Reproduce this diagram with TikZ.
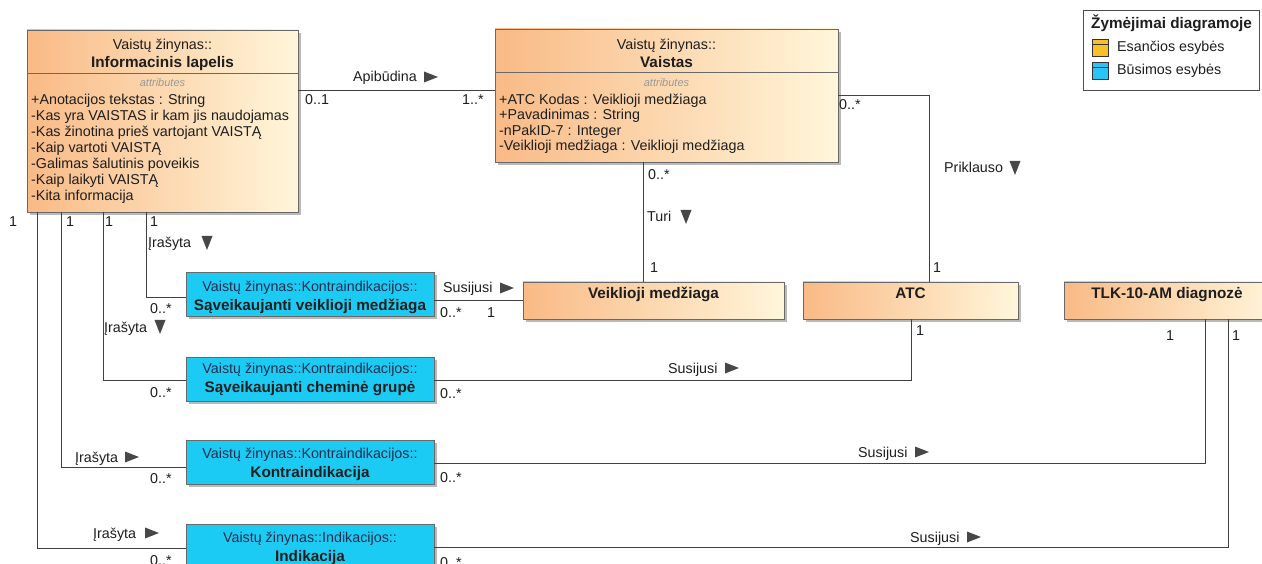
\documentclass[tikz,border=0pt]{standalone}
\usepackage{fontspec}
\setmainfont{Liberation Sans}
\usetikzlibrary{shadows}

\definecolor{oraL}{RGB}{249,186,134}
\definecolor{oraR}{RGB}{255,246,218}
\definecolor{cyanbox}{RGB}{28,203,243}
\definecolor{edgecol}{RGB}{105,105,105}
\definecolor{ink}{RGB}{30,30,30}
\definecolor{navy}{RGB}{35,45,80}
\definecolor{legOra}{RGB}{250,192,40}
\definecolor{legBlue}{RGB}{40,196,245}

\newcommand\regfont{\fontsize{14.3pt}{16pt}\selectfont}
\newcommand\hvyfont{\fontsize{15.3pt}{17pt}\selectfont\bfseries}
\newcommand\smallit{\fontsize{11pt}{12pt}\selectfont\itshape}

\tikzset{
  boxbase/.style={draw=edgecol, line width=0.8pt, inner sep=0pt, outer sep=0pt, anchor=north west,
    drop shadow={shadow xshift=3pt, shadow yshift=-3pt, fill=black!50, opacity=0.55}},
  obox/.style={boxbase, left color=oraL, right color=oraR},
  cbox/.style={boxbase, fill=cyanbox},
  conn/.style={draw=black!75, line width=0.9pt},
  txt/.style={inner sep=0pt, text=ink, font=\regfont},
  hvy/.style={inner sep=0pt, text=ink, font=\hvyfont},
  pkg/.style={inner sep=0pt, text=navy, font=\regfont},
  attrlist/.style={inner sep=0pt, text=ink, font=\regfont, align=left, anchor=north west},
  attrhead/.style={inner sep=0pt, text=black!40, font=\smallit},
  trifill/.style={fill=black!72},
  rtri/.pic={\fill[trifill] (0,-5.5) -- (14,0) -- (0,5.5) -- cycle;},
  dtri/.pic={\fill[trifill] (-5.5,-7) -- (5.5,-7) -- (0,7) -- cycle;},
}

\begin{document}
\begin{tikzpicture}[x=1pt, y=-1pt]
\useasboundingbox (0,0) rectangle (1262,564);
\fill[white] (0,0) rectangle (1262,564);
\clip (0,0) rectangle (1262,564);

% ---- class boxes ----
\node[obox, minimum width=271, minimum height=182] (info) at (27,30) {};
\node[obox, minimum width=343, minimum height=133] (vaistas) at (495,29) {};
\node[obox, minimum width=261, minimum height=37] (veik) at (523,282) {};
\node[obox, minimum width=215, minimum height=37] (atc) at (803,282) {};
\node[obox, minimum width=212, minimum height=37] (tlk) at (1064,282) {};
\node[cbox, minimum width=248, minimum height=44] (sav) at (186,272) {};
\node[cbox, minimum width=248, minimum height=44] (chem) at (186,357) {};
\node[cbox, minimum width=248, minimum height=44] (kontra) at (186,440) {};
\node[cbox, minimum width=248, minimum height=46] (indik) at (186,524) {};

% compartment dividers
\draw[edgecol, line width=0.8pt] ([yshift=-43pt]info.north west) -- ([yshift=-43pt]info.north east);
\draw[edgecol, line width=0.8pt] ([yshift=-43pt]vaistas.north west) -- ([yshift=-43pt]vaistas.north east);

% ---- class texts ----
\node[txt, anchor=base] (infoPkg) at (162.5,50) {Vaistų žinynas::};
\node[hvy, anchor=base] (infoName) at (162.5,67.5) {Informacinis lapelis};
\node[attrhead, anchor=base] (infoSt) at (162.5,87) {attributes};
\node[attrlist] (infoAttr) at (31,93.8) {+Anotacijos tekstas : String\\
-Kas yra VAISTAS ir kam jis naudojamas\\
-Kas žinotina prieš vartojant VAISTĄ\\
-Kaip vartoti VAISTĄ\\
-Galimas šalutinis poveikis\\
-Kaip laikyti VAISTĄ\\
-Kita informacija};

\node[txt, anchor=base] (vaPkg) at (666.5,50) {Vaistų žinynas::};
\node[hvy, anchor=base] (vaName) at (666.5,67.5) {Vaistas};
\node[attrhead, anchor=base] (vaSt) at (666.5,87) {attributes};
\node[attrlist, font=\fontsize{14.3pt}{15.3pt}\selectfont] (vaAttr) at (499,93.8) {+ATC Kodas : Veiklioji medžiaga\\
+Pavadinimas : String\\
-nPakID-7 : Integer\\
-Veiklioji medžiaga : Veiklioji medžiaga};

\node[hvy, anchor=base] (veikName) at (653.5,298.5) {Veiklioji medžiaga};
\node[hvy, anchor=base] (atcName) at (910.5,298.5) {ATC};
\node[hvy, anchor=base] (tlkName) at (1167,298.5) {TLK-10-AM diagnozė};

\node[pkg, anchor=base] (savPkg) at (310,291) {Vaistų žinynas::Kontraindikacijos::};
\node[hvy, anchor=base] (savName) at (310,310.5) {Sąveikaujanti veiklioji medžiaga};
\node[pkg, anchor=base] (chemPkg) at (310,373) {Vaistų žinynas::Kontraindikacijos::};
\node[hvy, anchor=base] (chemName) at (310,392.5) {Sąveikaujanti cheminė grupė};
\node[pkg, anchor=base] (kontraPkg) at (310,458) {Vaistų žinynas::Kontraindikacijos::};
\node[hvy, anchor=base] (kontraName) at (310,477.5) {Kontraindikacija};
\node[pkg, anchor=base] (indikPkg) at (310,542) {Vaistų žinynas::Indikacijos::};
\node[hvy, anchor=base] (indikName) at (310,561.5) {Indikacija};

% ---- associations ----
\draw[conn] (info.east |- 0,90) -- (vaistas.west |- 0,90);
\draw[conn] (vaistas.east |- 0,95) -| (atc.north -| 929,0);
\draw[conn] (vaistas.south -| 643,0) -- (veik.north -| 643,0);
\draw[conn] (sav.east |- 0,300) -- (veik.west |- 0,300);
\draw[conn] (chem.east |- 0,380) -| (atc.south -| 911,0);
\draw[conn] (kontra.east |- 0,463) -| (tlk.south -| 1205,0);
\draw[conn] (indik.east |- 0,547) -| (tlk.south -| 1228,0);
\draw[conn] (info.south -| 146,0) |- (sav.west |- 0,297);
\draw[conn] (info.south -| 103,0) |- (chem.west |- 0,380);
\draw[conn] (info.south -| 61,0) |- (kontra.west |- 0,467);
\draw[conn] (info.south -| 37,0) |- (indik.west |- 0,548);

% ---- association labels and multiplicities ----
\node[txt, anchor=base west] (apib) at (353,82) {Apibūdina};
\pic at (424,77) {rtri};
\node[txt, anchor=base west] (m01) at (305,105) {0..1};
\node[txt, anchor=base west] (m1s) at (462,105) {1..*};

\node[txt, anchor=base west] (mva) at (839,110) {0..*};
\node[txt, anchor=base west] (prik) at (944,173) {Priklauso};
\pic at (1015,168) {dtri};
\node[txt, anchor=base west] (matc1) at (933,273) {1};

\node[txt, anchor=base west] (mturi) at (648,180) {0..*};
\node[txt, anchor=base west] (turi) at (647,222) {Turi};
\pic at (686,217) {dtri};
\node[txt, anchor=base west] (mveik) at (650,273) {1};

\node[txt, anchor=base west] (sus1) at (443,293) {Susijusi};
\pic at (500,288) {rtri};
\node[txt, anchor=base west] (msav) at (440,317) {0..*};
\node[txt, anchor=base west] (mveik2) at (487,317) {1};

\node[txt, anchor=base west] (matc2) at (916,335) {1};
\node[txt, anchor=base west] (sus2) at (668,373) {Susijusi};
\pic at (725,368) {rtri};
\node[txt, anchor=base west] (mchem) at (440,398) {0..*};

\node[txt, anchor=base west] (sus3) at (858,457) {Susijusi};
\pic at (915,452) {rtri};
\node[txt, anchor=base west] (mkon) at (440,482) {0..*};

\node[txt, anchor=base west] (sus4) at (910,542) {Susijusi};
\pic at (967,537) {rtri};
\node[txt, anchor=base west] (mind) at (440,567) {0..*};

\node[txt, anchor=base west] (mtlk1) at (1166,341) {1};
\node[txt, anchor=base west] (mtlk2) at (1232,341) {1};

\node[txt, anchor=base west] (ml1) at (9,227) {1};
\node[txt, anchor=base west] (ml2) at (66,227) {1};
\node[txt, anchor=base west] (ml3) at (105,227) {1};
\node[txt, anchor=base west] (ml4) at (150,227) {1};

\node[txt, anchor=base west] (ir1) at (148,248) {Įrašyta};
\pic at (207,243) {dtri};
\node[txt, anchor=base west] (mr1) at (150,313) {0..*};
\node[txt, anchor=base west] (ir2) at (104,332) {Įrašyta};
\pic at (160,327) {dtri};
\node[txt, anchor=base west] (mr2) at (150,397) {0..*};
\node[txt, anchor=base west] (ir3) at (75,462) {Įrašyta};
\pic at (125,457) {rtri};
\node[txt, anchor=base west] (mr3) at (150,483) {0..*};
\node[txt, anchor=base west] (ir4) at (93,538) {Įrašyta};
\pic at (145,533) {rtri};
\node[txt, anchor=base west] (mr4) at (150,565) {0..*};

% ---- legend ----
\node[draw=black!70, line width=0.9pt, fill=white, inner sep=0pt, anchor=north west,
      minimum width=176, minimum height=80] (legend) at (1083,10) {};
\node[hvy, anchor=base west] (legTitle) at (1091,28.5) {Žymėjimai diagramoje};
\node[draw=black!80, line width=0.8pt, fill=legOra, inner sep=0pt, anchor=north west,
      minimum width=16, minimum height=17] (legIconA) at (1092,39) {};
\draw[black!80, line width=0.8pt] ([yshift=-5pt]legIconA.north west) -- ([yshift=-5pt]legIconA.north east);
\node[txt, anchor=base west] (legA) at (1117,52) {Esančios esybės};
\node[draw=black!80, line width=0.8pt, fill=legBlue, inner sep=0pt, anchor=north west,
      minimum width=16, minimum height=17] (legIconB) at (1092,62) {};
\draw[black!80, line width=0.8pt] ([yshift=-5pt]legIconB.north west) -- ([yshift=-5pt]legIconB.north east);
\node[txt, anchor=base west] (legB) at (1117,75) {Būsimos esybės};
\end{tikzpicture}
\end{document}
